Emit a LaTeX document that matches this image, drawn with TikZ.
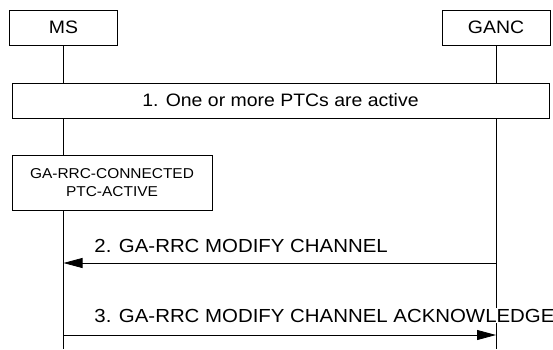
\documentclass[tikz,border=0pt]{standalone}
\usepackage{fontspec}
\setmainfont{Liberation Sans}[FakeStretch=1.08]
\usetikzlibrary{arrows.meta}
\begin{document}
\begin{tikzpicture}[x=1pt,y=-1pt,line width=0.8pt,
  entity/.style={draw,minimum width=108pt,minimum height=35pt,inner sep=0pt,font=\fontsize{18}{20}\selectfont},
  barbox/.style={draw,minimum width=537pt,minimum height=35pt,inner sep=0pt,font=\fontsize{18}{20}\selectfont},
  statebox/.style={draw,minimum width=200pt,minimum height=55pt,inner sep=0pt,align=center,font=\fontsize{14.3}{18}\selectfont},
  msg/.style={anchor=base west,inner sep=1pt,font=\fontsize{18.9}{20}\selectfont},
  msgline/.style={-{Triangle[length=19pt,width=10pt]}}]
\useasboundingbox (0,0) rectangle (553,349);
\node[entity] (ms) at (63.5,27.5) {MS};
\node[entity] (ganc) at (496,27.5) {GANC};
\node[barbox] (b1) at (280.5,100.5) {1. One or more PTCs are active};
\node[statebox] (st) at (112,182.5) {GA-RRC-CONNECTED\\PTC-ACTIVE};
\coordinate (msend) at (63.5,349);
\coordinate (gancend) at (496,349);
\coordinate (a2s) at (496,263);
\coordinate (a2e) at (63.5,263);
\coordinate (a3s) at (63.5,335);
\coordinate (a3e) at (496,335);
% lifelines
\draw (ms.south) -- (ms.south |- b1.north);
\draw (ms.south |- b1.south) -- (ms.south |- st.north);
\draw (ms.south |- st.south) -- (msend);
\draw (ganc.south) -- (ganc.south |- b1.north);
\draw (ganc.south |- b1.south) -- (gancend);
% messages
\draw[msgline] (a2s) -- (a2e);
\node[msg] (l2) at (93,252) {2. GA-RRC MODIFY CHANNEL};
\draw[msgline] (a3s) -- (a3e);
\node[msg,fill=white] (l3) at (93,322) {3. GA-RRC MODIFY CHANNEL ACKNOWLEDGE};
\end{tikzpicture}
\end{document}
